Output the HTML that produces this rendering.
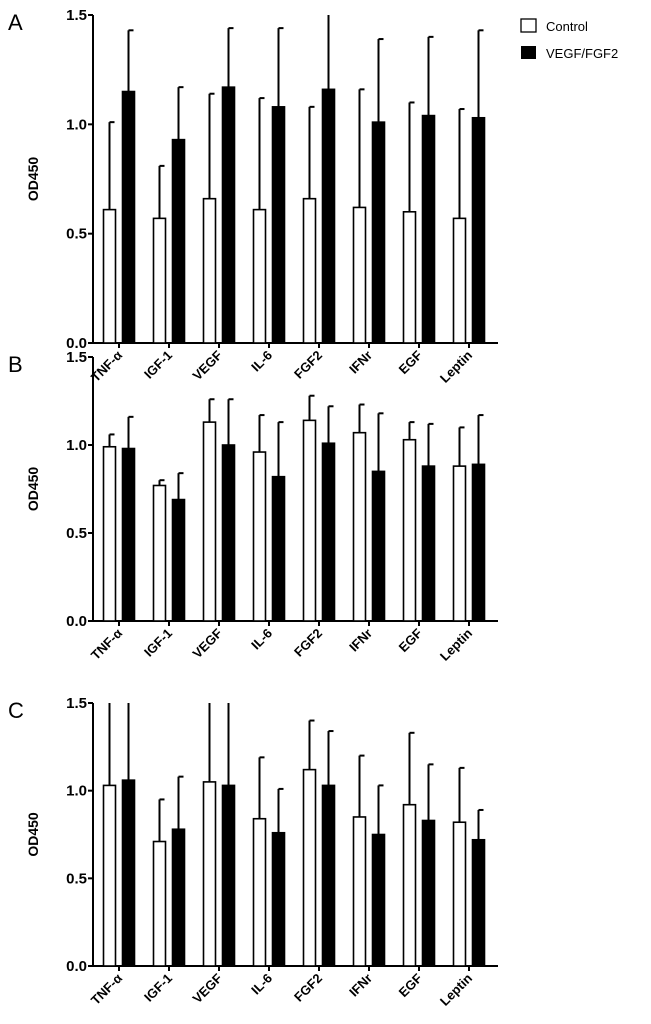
<!DOCTYPE html>
<html><head><meta charset="utf-8"><style>
body{margin:0;background:#fff;width:651px;height:1024px;overflow:hidden}
svg{display:block;font-family:"Liberation Sans",sans-serif}
</style></head><body>
<svg id="s" width="651" height="1024"></svg>
<script>
const categories=["TNF-α","IGF-1","VEGF","IL-6","FGF2","IFNr","EGF","Leptin"];
const ticks=[0,0.5,1.0,1.5];
const tickLabels=["0.0","0.5","1.0","1.5"];
const aCtrl=[0.61,0.57,0.66,0.61,0.66,0.62,0.60,0.57];
const aCtrlTop=[1.01,0.81,1.14,1.12,1.08,1.16,1.10,1.07];
const aTrt=[1.15,0.93,1.17,1.08,1.16,1.01,1.04,1.03];
const aTrtTop=[1.43,1.17,1.44,1.44,1.7,1.39,1.40,1.43];
const bCtrl=[0.99,0.77,1.13,0.96,1.14,1.07,1.03,0.88];
const bCtrlTop=[1.06,0.80,1.26,1.17,1.28,1.23,1.13,1.10];
const bTrt=[0.98,0.69,1.00,0.82,1.01,0.85,0.88,0.89];
const bTrtTop=[1.16,0.84,1.26,1.13,1.22,1.18,1.12,1.17];
const cCtrl=[1.03,0.71,1.05,0.84,1.12,0.85,0.92,0.82];
const cCtrlTop=[1.8,0.95,1.8,1.19,1.40,1.20,1.33,1.13];
const cTrt=[1.06,0.78,1.03,0.76,1.03,0.75,0.83,0.72];
const cTrtTop=[1.8,1.08,1.8,1.01,1.34,1.03,1.15,0.89];
const NS="http://www.w3.org/2000/svg";
const svg=document.getElementById('s');
function mk(t,a,p){const e=document.createElementNS(NS,t);for(const k in a)e.setAttribute(k,a[k]);(p||svg).appendChild(e);return e;}
function panel(letter,y0,y15,ctrl,ctrlTop,trt,trtTop){
  const g=mk('g',{});
  
  
  const ax=93,xEnd=498,c0=119,step=50;
  const ys=v=>y0-(Math.min(v,1.5)/1.5)*(y0-y15);
  const xs=i=>c0+i*step;
  const lt=mk('text',{x:8,y:y15+15,'font-size':22},g);lt.textContent=letter;
  
  
  const yt=mk('text',{transform:`translate(38,${(y0+y15)/2}) rotate(-90)`,'text-anchor':'middle','font-size':14,'font-weight':'bold'},g);yt.textContent='OD450';
  
  
  mk('line',{x1:ax,y1:y15,x2:ax,y2:y0+1,stroke:'#000','stroke-width':2},g);
  mk('line',{x1:ax,y1:y0,x2:xEnd,y2:y0,stroke:'#000','stroke-width':2},g);
  ticks.forEach((t,i)=>{
    mk('line',{x1:ax-5,y1:ys(t),x2:ax,y2:ys(t),stroke:'#000','stroke-width':2},g);
    const tx=mk('text',{x:ax-6,y:ys(t)+5,'text-anchor':'end','font-size':15,'font-weight':'bold'},g);tx.textContent=tickLabels[i];
    
    
  });
  categories.forEach((c,i)=>{
    const cx=xs(i);
    mk('line',{x1:cx,y1:y0,x2:cx,y2:y0+5,stroke:'#000','stroke-width':2},g);
    const tl=mk('text',{transform:`translate(${cx+4},${y0+13}) rotate(-45)`,'text-anchor':'end','font-size':13,'font-weight':'bold'},g);tl.textContent=c;
    
    
    [[ctrl,ctrlTop,'#fff',cx-9.5,'control'],[trt,trtTop,'#000',cx+9.5,'vegf-fgf2']].forEach(([v,top,f,bx,nm])=>{
      const vt=ys(top[i]),vb=ys(v[i]);
      mk('line',{x1:bx,y1:vt,x2:bx,y2:vb,stroke:'#000','stroke-width':2},g);
      if(top[i]<=1.5) mk('line',{x1:bx,y1:vt,x2:bx+5,y2:vt,stroke:'#000','stroke-width':2},g);
      const r=mk('rect',{x:bx-6,y:vb,width:12,height:y0-vb,fill:f,stroke:'#000','stroke-width':1.6},g);
      
      
    });
  });
}
panel('A',343,15,aCtrl,aCtrlTop,aTrt,aTrtTop);
panel('B',621,357,bCtrl,bCtrlTop,bTrt,bTrtTop);
panel('C',966,703,cCtrl,cCtrlTop,cTrt,cTrtTop);
const l1=mk('rect',{x:521,y:19,width:15,height:13,fill:'#fff',stroke:'#000','stroke-width':1.3});


const t1=mk('text',{x:546,y:31,'font-size':13});t1.textContent='Control';


const l2=mk('rect',{x:521,y:46,width:15,height:13,fill:'#000'});


const t2=mk('text',{x:546,y:58,'font-size':13});t2.textContent='VEGF/FGF2';


</script>
</body></html>
